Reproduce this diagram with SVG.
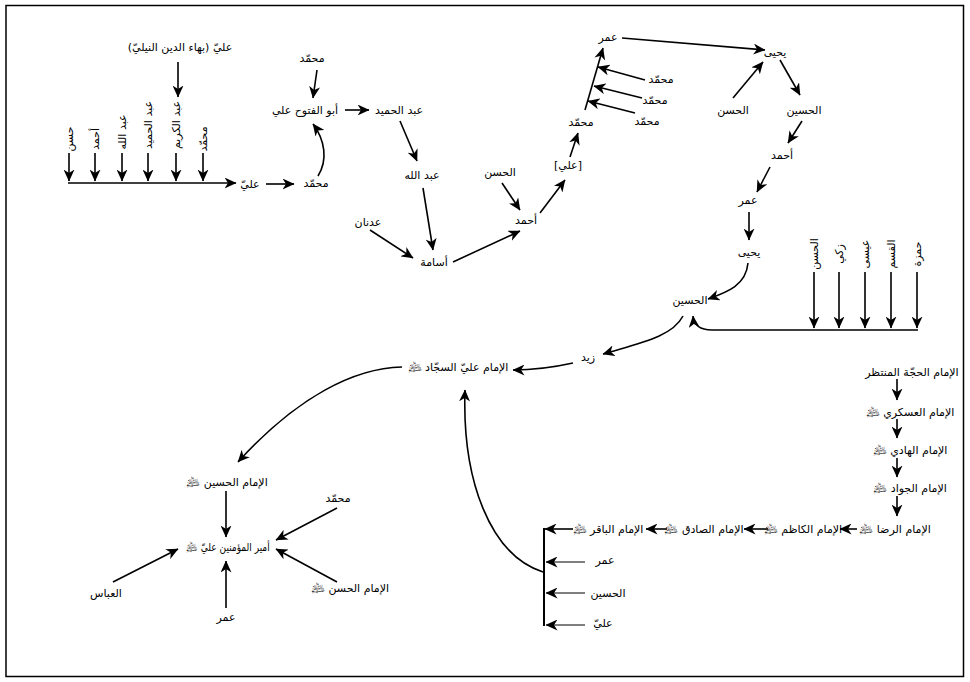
<svg xmlns="http://www.w3.org/2000/svg" width="970" height="682" viewBox="0 0 970 682">
<style>
  .t { font-family: "DejaVu Sans", sans-serif; font-size: 11px; fill: #000; text-anchor: middle; direction: rtl; }
  .c { fill: none; stroke: #000; stroke-width: 1.6; marker-end: url(#ah); }
  .thin { stroke-width: 1; }
  .bar { fill: none; stroke: #000; stroke-width: 2; }
</style>
<defs>
  <marker id="ah" viewBox="0 0 12 11" refX="11.5" refY="5.5" markerWidth="12" markerHeight="11" markerUnits="userSpaceOnUse" orient="auto">
    <path d="M0,0 L12,5.5 L0,11 L3.5,5.5 Z" fill="#000"/>
  </marker>
</defs>
<rect x="0" y="0" width="970" height="682" fill="#fff"/>
<rect x="6" y="5.5" width="957.5" height="671" fill="none" stroke="#000" stroke-width="1.5"/>

<g id="connectors">
  <!-- upper-left branch -->
  <path class="c" d="M178,62 L178,97"/>
  <path class="c" d="M69,153 L69,181"/>
  <path class="c" d="M95,153 L95,181"/>
  <path class="c" d="M122,153 L122,181"/>
  <path class="c" d="M148,153 L148,181"/>
  <path class="c" d="M176,153 L176,181"/>
  <path class="c" d="M203,153 L203,181"/>
  <path class="c" d="M68,183 L236,183"/>
  <path class="c" d="M266,184 L294,184"/>
  <path class="c" d="M318,176 C328,160 325,140 313,124"/>
  <path class="c" d="M317,70 L313,98"/>
  <path class="c" d="M345,110 L369,110"/>
  <path class="c" d="M400,121 L417,161"/>
  <path class="c" d="M423,188 L433,250"/>
  <path class="c" d="M370,230 L413,258"/>
  <path class="c" d="M453,262 L520,231"/>
  <path class="c" d="M502,183 L520,210"/>
  <path class="c" d="M540,213 L565,180"/>
  <path class="c" d="M570,157 L578,133"/>
  <path class="c" d="M585,110 L603,48"/>
  <path class="c" d="M645,80 L598,67"/>
  <path class="c" d="M642,98 L594,86"/>
  <path class="c" d="M635,113 L588,101"/>
  <path class="c" d="M622,38 L765,50"/>
  <!-- right upper chain -->
  <path class="c" d="M733,98 L763,62"/>
  <path class="c" d="M780,60 L800,95"/>
  <path class="c" d="M802,121 L788,143"/>
  <path class="c" d="M770,167 L757,192"/>
  <path class="c" d="M749,212 L749,240"/>
  <path class="c" d="M748,263 C746,285 728,292 708,299"/>
  <path class="c" d="M814,272 L814,328"/>
  <path class="c" d="M839,272 L839,328"/>
  <path class="c" d="M865,272 L865,328"/>
  <path class="c" d="M891,272 L891,328"/>
  <path class="c" d="M917,272 L917,328"/>
  <path class="c" d="M918,330 L712,330 C700,330 694,326 693,316"/>
  <path class="c" d="M683,316 C672,337 640,343 603,354"/>
  <path class="c" d="M573,363 C555,367 535,370 513,370"/>
  <path class="c" d="M402,367 C355,368 298,396 238,462"/>
  <!-- Amir al-Mu'minin cluster -->
  <path class="c" d="M226,491 L226,537"/>
  <path class="c" d="M337,508 L276,540"/>
  <path class="c" d="M337,582 L276,549"/>
  <path class="c" d="M113,582 L178,549"/>
  <path class="c" d="M226,608 L226,561"/>
  <!-- imams chain -->
  <path class="c" d="M897,379 L897,400"/>
  <path class="c" d="M897,419 L897,438"/>
  <path class="c" d="M897,458 L897,477"/>
  <path class="c" d="M897,496 L897,516"/>
  <path class="c" d="M857,529 L840,529"/>
  <path class="c" d="M768,529 L744,529"/>
  <path class="c" d="M667,529 L646,529"/>
  <path class="c" d="M573,529 L545,529"/>
  <path class="bar" d="M544,528 L544,626"/>
  <path class="c thin" d="M585,562 L546,562"/>
  <path class="c thin" d="M585,593 L546,593"/>
  <path class="c thin" d="M585,625 L546,625"/>
  <path class="c" d="M543,572 C490,555 462,480 465,390"/>
</g>

<!-- upper-left -->
<g id="n-nili"><text class="t" x="180" y="51">عليّ (بهاء الدين النيليّ)</text></g>
<g id="n-hasan1"><text class="t" transform="translate(73,139) rotate(-90)">حسن</text></g>
<g id="n-ahmad1"><text class="t" transform="translate(99,139) rotate(-90)">أحمد</text></g>
<g id="n-abdallah1"><text class="t" transform="translate(126,132) rotate(-90)">عبد الله</text></g>
<g id="n-abdalhamid1"><text class="t" transform="translate(152,125) rotate(-90)">عبد الحميد</text></g>
<g id="n-abdalkarim"><text class="t" transform="translate(180,125) rotate(-90)">عبد الكريم</text></g>
<g id="n-muhammad1"><text class="t" transform="translate(207,139) rotate(-90)">محمّد</text></g>
<g id="n-ali1"><text class="t" x="250" y="188">عليّ</text></g>
<g id="n-muhammad2"><text class="t" x="316" y="187">محمّد</text></g>
<g id="n-muhammad3"><text class="t" x="312" y="62">محمّد</text></g>
<g id="n-abulfutuh"><text class="t" x="305" y="114">أبو الفتوح علي</text></g>
<g id="n-abdalhamid2"><text class="t" x="399" y="114">عبد الحميد</text></g>
<g id="n-abdallah2"><text class="t" x="422" y="179">عبد الله</text></g>
<g id="n-adnan"><text class="t" x="368" y="226">عدنان</text></g>
<g id="n-usama"><text class="t" x="434" y="266">أسامة</text></g>
<g id="n-hasan2"><text class="t" x="500" y="176">الحسن</text></g>
<g id="n-ahmad2"><text class="t" x="526" y="224">أحمد</text></g>
<g id="n-ali2"><text class="t" x="568" y="169">[علي]</text></g>
<g id="n-muhammad4"><text class="t" x="581" y="126">محمّد</text></g>
<g id="n-umar1"><text class="t" x="608" y="41">عمر</text></g>
<g id="n-muhammad5"><text class="t" x="661" y="83">محمّد</text></g>
<g id="n-muhammad6"><text class="t" x="655" y="104">محمّد</text></g>
<g id="n-muhammad7"><text class="t" x="647" y="125">محمّد</text></g>

<!-- upper-right -->
<g id="n-yahya1"><text class="t" x="775" y="56">يحيى</text></g>
<g id="n-hasan3"><text class="t" x="733" y="114">الحسن</text></g>
<g id="n-husayn1"><text class="t" x="804" y="114">الحسين</text></g>
<g id="n-ahmad3"><text class="t" x="782" y="159">أحمد</text></g>
<g id="n-umar2"><text class="t" x="748" y="204">عمر</text></g>
<g id="n-yahya2"><text class="t" x="749" y="256">يحيى</text></g>
<g id="n-husayn2"><text class="t" x="690" y="304">الحسين</text></g>
<g id="n-hasan4"><text class="t" transform="translate(818,254) rotate(-90)">الحسن</text></g>
<g id="n-zaki"><text class="t" transform="translate(843,254) rotate(-90)">زكي</text></g>
<g id="n-isa"><text class="t" transform="translate(869,254) rotate(-90)">عيسى</text></g>
<g id="n-qasim"><text class="t" transform="translate(895,254) rotate(-90)">القسم</text></g>
<g id="n-hamza"><text class="t" transform="translate(921,254) rotate(-90)">حمزة</text></g>

<!-- middle -->
<g id="n-zayd"><text class="t" x="588" y="361">زيد</text></g>
<g id="n-sajjad"><text class="t" x="458" y="371">الإمام عليّ السجّاد &#xFD47;</text></g>

<!-- lower-left -->
<g id="n-imam-husayn"><text class="t" x="227" y="486">الإمام الحسين &#xFD47;</text></g>
<g id="n-amir"><text class="t" transform="translate(228,551) scale(0.82,1)">أمير المؤمنين عليّ &#xFD47;</text></g>
<g id="n-muhammad8"><text class="t" x="338" y="502">محمّد</text></g>
<g id="n-imam-hasan"><text class="t" x="350" y="592">الإمام الحسن &#xFD47;</text></g>
<g id="n-abbas"><text class="t" x="106" y="597">العباس</text></g>
<g id="n-umar3"><text class="t" x="226" y="621">عمر</text></g>

<!-- lower-right imams -->
<g id="n-hujja"><text class="t" x="912" y="376">الإمام الحجّة المنتظر</text></g>
<g id="n-askari"><text class="t" x="910" y="416">الإمام العسكري &#xFD47;</text></g>
<g id="n-hadi"><text class="t" x="910" y="454">الإمام الهادي &#xFD47;</text></g>
<g id="n-jawad"><text class="t" x="910" y="492">الإمام الجواد &#xFD47;</text></g>
<g id="n-rida"><text class="t" x="895" y="533">الإمام الرضا &#xFD47;</text></g>
<g id="n-kazim"><text class="t" x="803" y="533">الإمام الكاظم &#xFD47;</text></g>
<g id="n-sadiq"><text class="t" x="704" y="533">الإمام الصادق &#xFD47;</text></g>
<g id="n-baqir"><text class="t" x="608" y="533">الإمام الباقر &#xFD47;</text></g>
<g id="n-umar4"><text class="t" x="605" y="564">عمر</text></g>
<g id="n-husayn3"><text class="t" x="608" y="597">الحسين</text></g>
<g id="n-ali3"><text class="t" x="603" y="627">عليّ</text></g>
</svg>
